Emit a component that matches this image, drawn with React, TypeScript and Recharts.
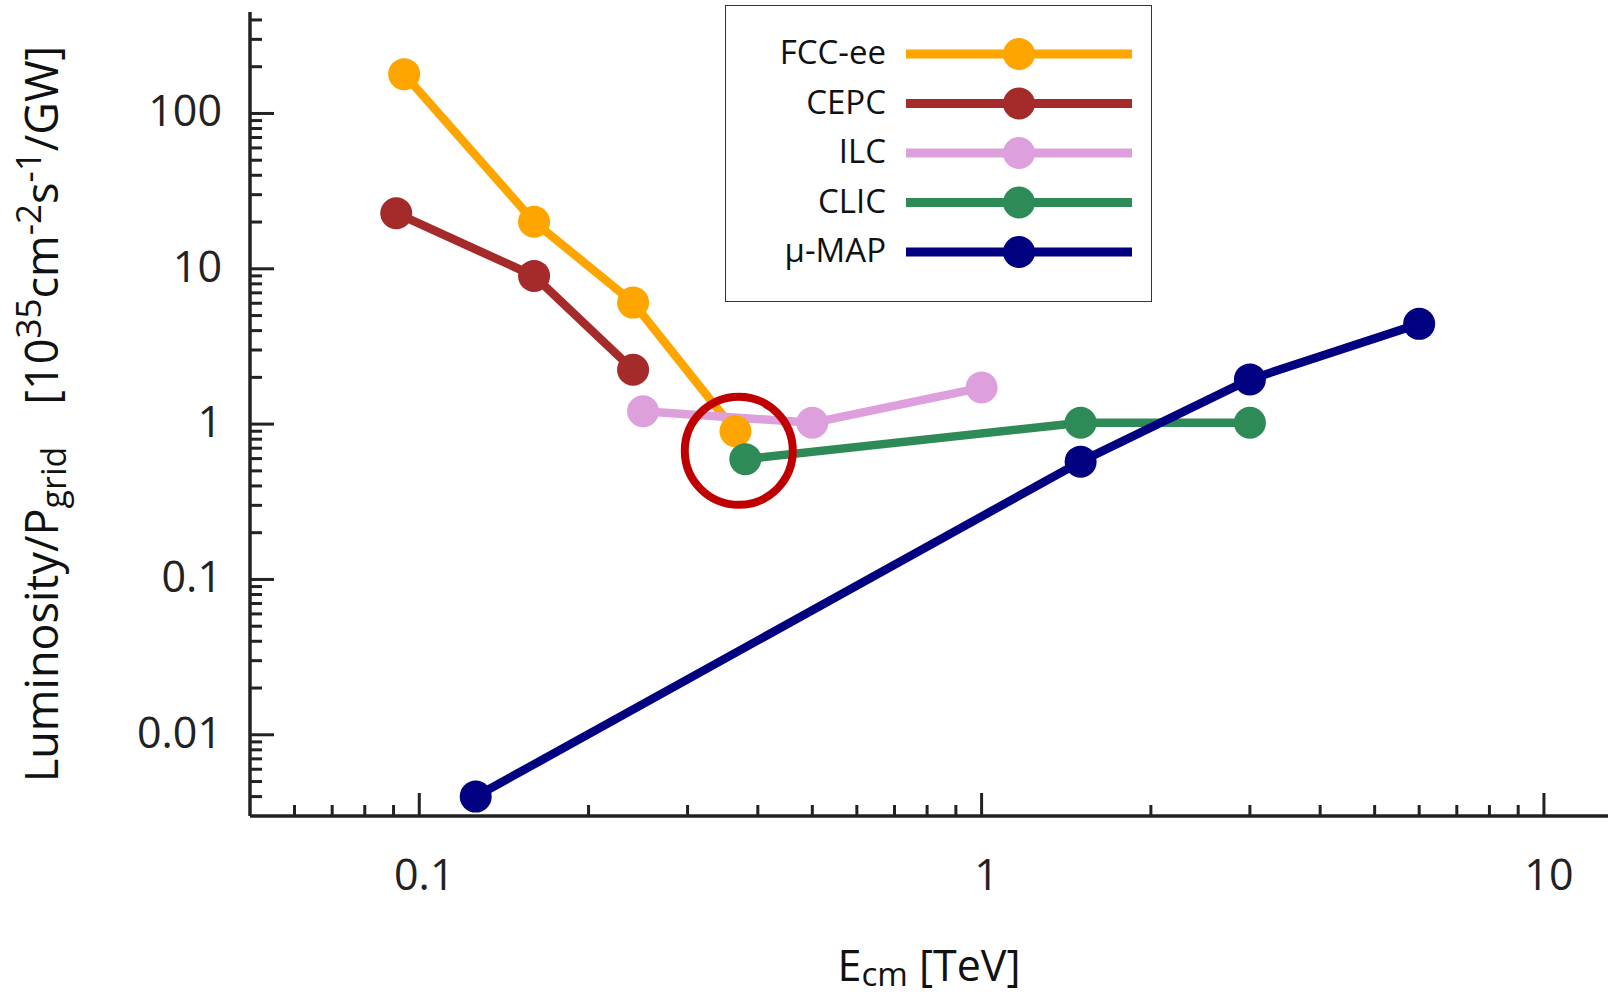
import React from "react";
import { Legend, Line, LineChart, ReferenceDot, XAxis, YAxis } from "recharts";

const seriesNames = ["FCC-ee", "CEPC", "ILC", "CLIC", "μ-MAP"];
const seriesColors = ["#FFA500", "#A52A2A", "#DDA0DD", "#2E8B57", "#000080"];

// centre-of-mass energy [TeV] and luminosity per grid power
const fccEnergy = [0.094, 0.16, 0.24, 0.365];
const fccLumi = [179, 20.1, 6.06, 0.9];
const cepcEnergy = [0.091, 0.16, 0.24];
const cepcLumi = [22.8, 9.0, 2.24];
const ilcEnergy = [0.25, 0.5, 1.0];
const ilcLumi = [1.21, 1.02, 1.72];
const clicEnergy = [0.38, 1.5, 3.0];
const clicLumi = [0.595, 1.02, 1.02];
const mumapEnergy = [0.126, 1.5, 3.0, 6.0];
const mumapLumi = [0.004, 0.573, 1.94, 4.42];

const xMajorTicks = [0.1, 1, 10];
const xMinorTicks = [0.06, 0.07, 0.08, 0.09, 0.2, 0.3, 0.4, 0.5, 0.6, 0.7, 0.8, 0.9, 2, 3, 4, 5, 6, 7, 8, 9];
const xTickLabels = ["0.1", "1", "10"];
const yMajorTicks = [0.01, 0.1, 1, 10, 100];
const yMinorTicks = [
  0.004, 0.005, 0.006, 0.007, 0.008, 0.009,
  0.02, 0.03, 0.04, 0.05, 0.06, 0.07, 0.08, 0.09,
  0.2, 0.3, 0.4, 0.5, 0.6, 0.7, 0.8, 0.9,
  2, 3, 4, 5, 6, 7, 8, 9,
  20, 30, 40, 50, 60, 70, 80, 90,
  200, 300, 400,
];
const yTickLabels = ["0.01", "0.1", "1", "10", "100"];

// highlighted point (red ring)
const highlightEnergy = 0.37;
const highlightLumi = 0.673;

const FONT = "'Open Sans', 'DejaVu Sans', sans-serif";
const INK = "#222";

const toPoints = (energy: number[], lumi: number[]) => energy.map((e, i) => ({ energy: e, lumi: lumi[i] }));

const series = [
  toPoints(fccEnergy, fccLumi),
  toPoints(cepcEnergy, cepcLumi),
  toPoints(ilcEnergy, ilcLumi),
  toPoints(clicEnergy, clicLumi),
  toPoints(mumapEnergy, mumapLumi),
];

function XTick({ x, y, payload }: any) {
  const idx = xMajorTicks.indexOf(payload.value);
  const major = idx >= 0;
  return (
    <g>
      <line x1={x} x2={x} y1={y} y2={y - (major ? 23 : 11)} stroke={INK} strokeWidth={3} />
      {major && (
        <text x={x + 5} y={y + 74} textAnchor="middle" fontFamily={FONT} fontSize={43} fill={INK}>
          {xTickLabels[idx]}
        </text>
      )}
    </g>
  );
}

function YTick({ x, y, payload }: any) {
  const idx = yMajorTicks.indexOf(payload.value);
  const major = idx >= 0;
  return (
    <g>
      <line x1={x} x2={x + (major ? 24 : 12)} y1={y} y2={y} stroke={INK} strokeWidth={3} />
      {major && (
        <text x={x - 28} y={y + 13} textAnchor="end" fontFamily={FONT} fontSize={43} fill={INK}>
          {yTickLabels[idx]}
        </text>
      )}
    </g>
  );
}

function XTitle({ viewBox }: any) {
  const cx = viewBox.x + viewBox.width / 2;
  return (
    <text x={cx} y={viewBox.y + 165} textAnchor="middle" fontFamily={FONT} fontSize={43} fill="#111">
      <tspan>E</tspan>
      <tspan fontSize={33} dy={5}>cm</tspan>
      <tspan dy={-5}> [TeV]</tspan>
    </text>
  );
}

function YTitle({ viewBox }: any) {
  const cx = 58;
  const cy = viewBox.y + viewBox.height / 2;
  return (
    <text x={cx} y={cy} transform={`rotate(-90 ${cx} ${cy})`} textAnchor="middle" fontFamily={FONT} fontSize={45} fill="#111">
      <tspan>Luminosity/P</tspan>
      <tspan fontSize={34} dy={8}>grid</tspan>
      <tspan dx={42} dy={-8}>[10</tspan>
      <tspan fontSize={35} dy={-17}>35</tspan>
      <tspan dy={17}>cm</tspan>
      <tspan fontSize={35} dy={-17}>-2</tspan>
      <tspan dy={17}>s</tspan>
      <tspan fontSize={35} dy={-17}>-1</tspan>
      <tspan dy={17}>/GW]</tspan>
    </text>
  );
}

function LegendBox({ payload }: any) {
  const fromChart = (payload || []) as { value: string; color: string }[];
  const items = seriesNames.map((n, i) => {
    const hit = fromChart.find((p) => p.value === n);
    return { value: n, color: hit ? hit.color : seriesColors[i] };
  });
  return (
    <div style={{ width: 427, height: 297, border: "1.5px solid #333", boxSizing: "border-box", background: "#fff" }}>
      <svg width={424} height={294}>
        {items.map((it, i) => {
          const cy = 48 + i * 49.5;
          return (
            <g key={it.value}>
              <text x={160} y={cy + 10} textAnchor="end" fontFamily={FONT} fontSize={33} fill="#111">
                {it.value}
              </text>
              <line x1={180} x2={406} y1={cy} y2={cy} stroke={it.color} strokeWidth={9} />
              <circle cx={293} cy={cy} r={16} fill={it.color} />
            </g>
          );
        })}
      </svg>
    </div>
  );
}

export default function App() {
  return (
    <div style={{ position: "absolute", left: 0, top: 0, width: 1613, height: 996, background: "#fff" }}>
      <LineChart width={1613} height={996} margin={{ top: 12, right: 5, left: 0, bottom: 0 }}>
        <XAxis
          dataKey="energy"
          type="number"
          scale="log"
          domain={[0.05, 13]}
          allowDataOverflow
          ticks={[...xMinorTicks, ...xMajorTicks]}
          interval={0}
          tickSize={0}
          tickMargin={0}
          tickLine={false}
          tick={<XTick />}
          axisLine={{ stroke: INK, strokeWidth: 3.5 }}
          height={180}
          label={<XTitle />}
        />
        <YAxis
          type="number"
          scale="log"
          domain={[0.003, 450]}
          allowDataOverflow
          ticks={[...yMinorTicks, ...yMajorTicks]}
          interval={0}
          tickSize={0}
          tickMargin={0}
          tickLine={false}
          tick={<YTick />}
          axisLine={{ stroke: INK, strokeWidth: 3.5 }}
          width={250}
          label={<YTitle />}
        />
        <Legend
          content={<LegendBox />}
          layout="horizontal"
          verticalAlign="middle"
          align="center"
          wrapperStyle={{ position: "absolute", left: 725, top: 5, width: 427, height: 297 }}
        />
        {series.map((data, i) => (
          <Line
            key={seriesNames[i]}
            data={data}
            dataKey="lumi"
            name={seriesNames[i]}
            stroke={seriesColors[i]}
            strokeWidth={8.5}
            strokeLinejoin="round"
            dot={{ r: 16, fill: seriesColors[i], stroke: "none" }}
            activeDot={false}
            isAnimationActive={false}
          />
        ))}
        <ReferenceDot
          x={highlightEnergy}
          y={highlightLumi}
          r={54}
          fill="none"
          stroke="#C00000"
          strokeWidth={8}
          ifOverflow="visible"
        />
      </LineChart>
    </div>
  );
}
